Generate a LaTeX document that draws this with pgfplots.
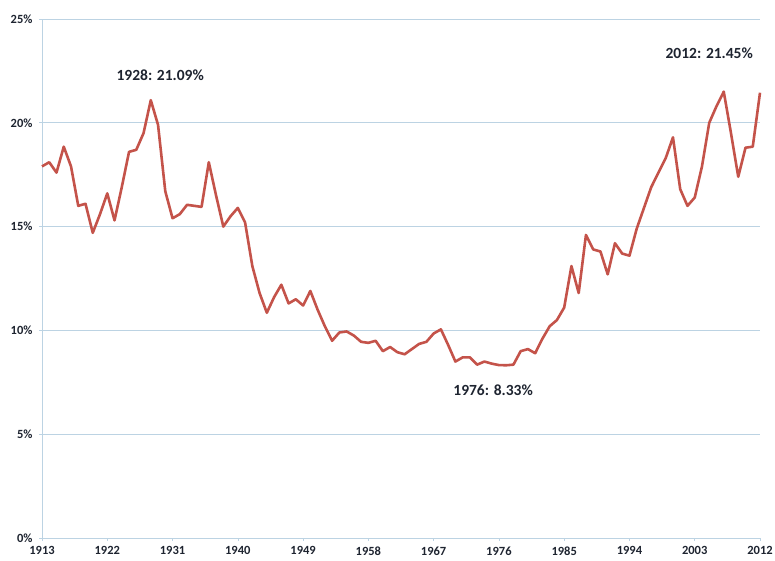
\documentclass[border=0pt]{standalone}
\usepackage{pgfplots}
\pgfplotsset{compat=1.18}
\usepackage{fontspec}
\setmainfont{Carlito}
\definecolor{linered}{HTML}{C4534A}
\definecolor{gridblue}{HTML}{BCD3E3}
\definecolor{txt}{HTML}{1E2430}
\pgfplotstableread{
year val
1913 17.9
1914 18.1
1915 17.6
1916 18.85
1917 17.9
1918 16.0
1919 16.1
1920 14.7
1921 15.6
1922 16.6
1923 15.3
1924 16.9
1925 18.6
1926 18.7
1927 19.5
1928 21.09
1929 19.9
1930 16.7
1931 15.4
1932 15.6
1933 16.05
1934 16.0
1935 15.95
1936 18.1
1937 16.5
1938 15.0
1939 15.5
1940 15.9
1941 15.2
1942 13.1
1943 11.8
1944 10.85
1945 11.6
1946 12.2
1947 11.3
1948 11.5
1949 11.2
1950 11.9
1951 11.0
1952 10.2
1953 9.5
1954 9.9
1955 9.95
1956 9.75
1957 9.45
1958 9.4
1959 9.5
1960 9.0
1961 9.2
1962 8.95
1963 8.85
1964 9.1
1965 9.35
1966 9.45
1967 9.85
1968 10.05
1969 9.3
1970 8.5
1971 8.7
1972 8.7
1973 8.35
1974 8.5
1975 8.4
1976 8.33
1977 8.32
1978 8.35
1979 9.0
1980 9.1
1981 8.9
1982 9.6
1983 10.2
1984 10.5
1985 11.1
1986 13.1
1987 11.8
1988 14.6
1989 13.9
1990 13.8
1991 12.7
1992 14.2
1993 13.7
1994 13.6
1995 14.9
1996 15.9
1997 16.9
1998 17.6
1999 18.3
2000 19.3
2001 16.8
2002 16.0
2003 16.4
2004 17.9
2005 20.0
2006 20.8
2007 21.5
2008 19.5
2009 17.4
2010 18.8
2011 18.85
2012 21.45
}\datatable
\begin{document}
\begin{tikzpicture}
\begin{axis}[
  scale only axis, width=718pt, height=519pt,
  xmin=1913, xmax=2012, ymin=0, ymax=25,
  axis x line=bottom, axis y line=left,
  axis line style={-, gridblue, line width=0.8pt},
  xtick={1913,1922,...,2012}, minor x tick num=8,
  ytick={0,5,...,25},
  ymajorgrids, grid style={gridblue, line width=0.8pt},
  tick style={gridblue, line width=0.6pt},
  tick align=outside,
  major tick length=3pt, minor tick length=3pt,
  /pgf/number format/assume math mode=true,
  /pgf/number format/1000 sep={},
  ticklabel style={font=\bfseries\fontsize{12.5}{13}\selectfont, text=txt},
  xticklabel style={yshift=-2pt},
  yticklabel style={xshift=-3pt},
  yticklabel={\pgfmathprintnumber{\tick}\%},
  clip=false,
]
\addplot[linered, line width=2.6pt, line join=round] table[x=year, y=val] {\datatable};
\node[font=\bfseries\fontsize{15.5}{16}\selectfont, text=txt] at (axis cs:1929.3,22.3) {1928: 21.09\%};
\node[font=\bfseries\fontsize{15.5}{16}\selectfont, text=txt] at (axis cs:1975.2,7.1) {1976: 8.33\%};
\node[font=\bfseries\fontsize{15.5}{16}\selectfont, text=txt] at (axis cs:2005.0,23.36) {2012: 21.45\%};
\end{axis}
\pgfresetboundingbox
\path[use as bounding box] ([shift={(-42pt,-22pt)}]current axis.south west) rectangle ([shift={(15pt,19pt)}]current axis.north east);
\end{tikzpicture}
\end{document}
